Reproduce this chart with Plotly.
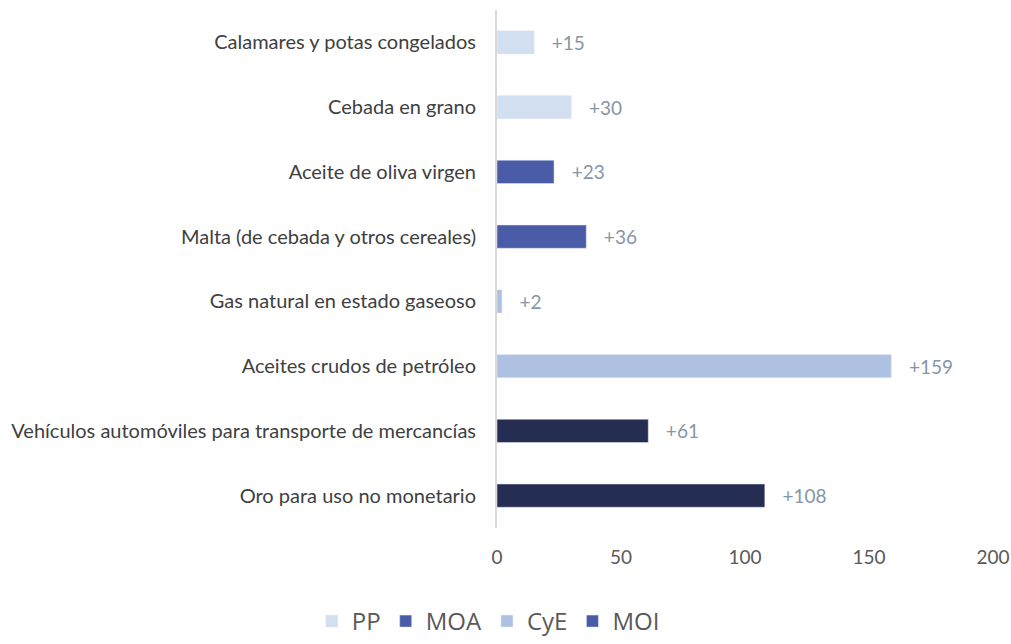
import plotly.graph_objects as go

categories = [
    "Calamares y potas congelados",
    "Cebada en grano",
    "Aceite de oliva virgen",
    "Malta (de cebada y otros cereales)",
    "Gas natural en estado gaseoso",
    "Aceites crudos de petróleo",
    "Vehículos automóviles para transporte de mercancías",
    "Oro para uso no monetario",
]
values = [15, 30, 23, 36, 2, 159, 61, 108]
groups = ["PP", "PP", "MOA", "MOA", "CyE", "CyE", "MOI", "MOI"]
legend_order = ["PP", "MOA", "CyE", "MOI"]
bar_colors = {"PP": "#d2dff1", "MOA": "#4a5ca8", "CyE": "#aec1e3", "MOI": "#252e52"}
legend_colors = {"PP": "#d2dff1", "MOA": "#4a5ca8", "CyE": "#aec1e3", "MOI": "#4a5ca8"}
x_ticks = [0, 50, 100, 150, 200]

fig = go.Figure()
fig.add_trace(go.Bar(
    y=categories, x=values, orientation="h",
    marker=dict(color=[bar_colors[g] for g in groups]),
    text=["   +%d" % v for v in values],
    textposition="outside", cliponaxis=False,
    textfont=dict(color="#8596a6", size=19, family="Lato"),
    showlegend=False, hoverinfo="x+y",
))
for g in legend_order:
    fig.add_trace(go.Bar(
        y=[None], x=[None], orientation="h", name=g,
        marker=dict(color=legend_colors[g]), showlegend=True,
    ))

fig.update_layout(
    width=1011, height=644,
    margin=dict(l=497, r=18, t=10, b=116),
    plot_bgcolor="white", paper_bgcolor="white",
    bargap=0.64,
    font=dict(family="Lato", color="#404040"),
    legend=dict(orientation="h", x=0.483, xref="container", xanchor="center",
                y=0.0, yref="container", yanchor="bottom",
                font=dict(size=24, color="#595959", family="Open Sans"),
                itemwidth=30, traceorder="normal"),
    xaxis=dict(range=[0, 200], tickvals=x_ticks, showgrid=False, zeroline=False,
               showline=False, tickfont=dict(size=19, color="#595959"),
               ticks="", ticklabelstandoff=16),
    yaxis=dict(categoryorder="array", categoryarray=categories[::-1],
               showline=True, linecolor="#d9d9d9", linewidth=2,
               showgrid=False, ticks="", tickfont=dict(size=20, color="#404040"),
               ticklabelstandoff=15),
)
fig.update_xaxes(automargin=False)
fig.update_yaxes(automargin=False)
fig.write_html(
    "out.html",
    config={"displayModeBar": False},
    post_script="document.body.style.margin='0px';document.body.style.overflow='hidden';",
)
